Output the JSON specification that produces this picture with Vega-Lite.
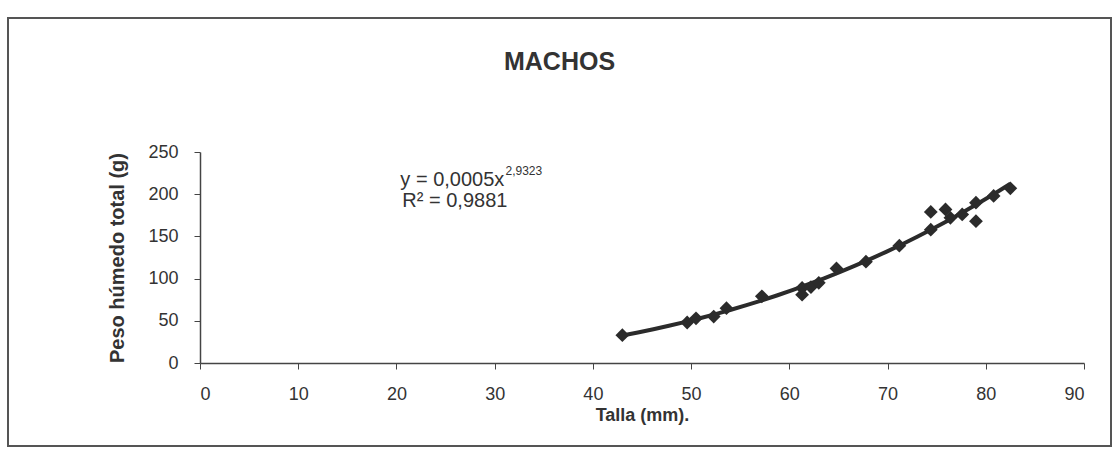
{
  "$schema": "https://vega.github.io/schema/vega-lite/v6.json",
  "width": 1103,
  "height": 428,
  "autosize": {"type": "none"},
  "padding": {"left": 8, "top": 18, "right": 6, "bottom": 8},
  "background": "white",
  "config": {
    "view": {"stroke": "#555", "strokeWidth": 2},
    "font": "Liberation Sans"
  },
  "title": {
    "text": "MACHOS",
    "fontSize": 25,
    "fontWeight": "bold",
    "color": "#333",
    "anchor": "middle",
    "frame": "group",
    "offset": -57,
    "font": "Liberation Sans"
  },
  "data": {
    "values": [
      {"talla": 43.0, "peso": 33},
      {"talla": 49.6, "peso": 48},
      {"talla": 50.5, "peso": 53},
      {"talla": 52.3, "peso": 55},
      {"talla": 53.6, "peso": 65},
      {"talla": 57.2, "peso": 79},
      {"talla": 61.3, "peso": 89},
      {"talla": 61.3, "peso": 81},
      {"talla": 62.2, "peso": 90},
      {"talla": 63.0, "peso": 95},
      {"talla": 64.8, "peso": 112},
      {"talla": 67.8, "peso": 120},
      {"talla": 71.2, "peso": 139},
      {"talla": 74.4, "peso": 158},
      {"talla": 74.4, "peso": 179},
      {"talla": 75.9, "peso": 182},
      {"talla": 76.4, "peso": 172},
      {"talla": 77.6, "peso": 176},
      {"talla": 79.0, "peso": 190},
      {"talla": 79.0, "peso": 168},
      {"talla": 80.8, "peso": 198},
      {"talla": 82.5, "peso": 207}
    ]
  },
  "layer": [
    {
      "transform": [{"regression": "peso", "on": "talla", "method": "pow"}],
      "mark": {"type": "line", "color": "#2b2b2b", "strokeWidth": 4},
      "encoding": {
        "x": {"field": "talla", "type": "quantitative"},
        "y": {"field": "peso", "type": "quantitative"}
      }
    },
    {
      "mark": {"type": "point", "shape": "diamond", "filled": true, "size": 190, "color": "#2b2b2b", "opacity": 1},
      "encoding": {
        "x": {
          "field": "talla",
          "type": "quantitative",
          "scale": {"domain": [0, 90], "range": [192, 1076], "nice": false, "zero": false},
          "axis": {
            "title": "Talla (mm).",
            "titleFontSize": 18,
            "titleFontWeight": "bold",
            "titleColor": "#333",
            "titlePadding": 3,
            "offset": -83,
            "grid": false,
            "values": [0, 10, 20, 30, 40, 50, 60, 70, 80, 90],
            "labelFontSize": 18,
            "labelColor": "#333",
            "labelPadding": 16,
            "tickSize": 6,
            "domainColor": "#444",
            "tickColor": "#444",
            "domainWidth": 1.5,
            "labelFont": "Liberation Sans",
            "titleFont": "Liberation Sans"
          }
        },
        "y": {
          "field": "peso",
          "type": "quantitative",
          "scale": {"domain": [0, 250], "range": [345, 134], "nice": false},
          "axis": {
            "title": "Peso húmedo total (g)",
            "titleFontSize": 20,
            "titleFontWeight": "bold",
            "titleColor": "#333",
            "titlePadding": 20,
            "offset": -192,
            "grid": false,
            "values": [0, 50, 100, 150, 200, 250],
            "labelFontSize": 18,
            "labelColor": "#333",
            "labelPadding": 16,
            "tickSize": 6,
            "domainColor": "#444",
            "tickColor": "#444",
            "domainWidth": 1.5,
            "labelFont": "Liberation Sans",
            "titleFont": "Liberation Sans"
          }
        }
      }
    },
    {
      "data": {"values": [{"label": "y = 0,0005x"}]},
      "mark": {"type": "text", "align": "left", "baseline": "middle", "fontSize": 20, "color": "#333", "font": "Liberation Sans"},
      "encoding": {
        "x": {"datum": 20.4, "type": "quantitative"},
        "y": {"datum": 217, "type": "quantitative"},
        "text": {"field": "label"}
      }
    },
    {
      "data": {"values": [{"label": "2,9323"}]},
      "mark": {"type": "text", "align": "left", "baseline": "middle", "fontSize": 12, "color": "#333", "font": "Liberation Sans"},
      "encoding": {
        "x": {"datum": 31.1, "type": "quantitative"},
        "y": {"datum": 227, "type": "quantitative"},
        "text": {"field": "label"}
      }
    },
    {
      "data": {"values": [{"label": "R² = 0,9881"}]},
      "mark": {"type": "text", "align": "left", "baseline": "middle", "fontSize": 20, "color": "#333", "font": "Liberation Sans"},
      "encoding": {
        "x": {"datum": 20.6, "type": "quantitative"},
        "y": {"datum": 192, "type": "quantitative"},
        "text": {"field": "label"}
      }
    }
  ]
}
